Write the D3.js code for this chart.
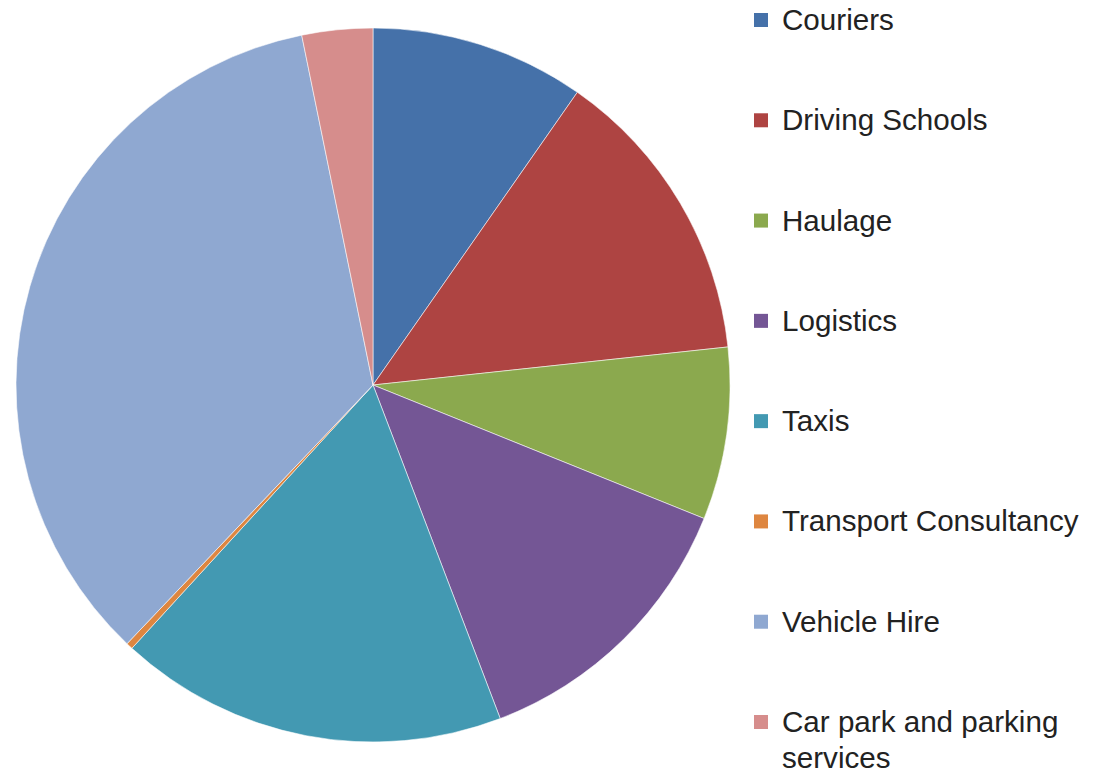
<!DOCTYPE html>
<html>
<head>
<meta charset="utf-8">
<script src="https://cdn.jsdelivr.net/npm/d3@7"></script>
<style>
  html, body { margin: 0; padding: 0; background: #fff; }
  svg { display: block; }
</style>
</head>
<body>
<svg id="chart" width="1093" height="776"></svg>
<script>
// data (percent of the whole)
var categories = ['Couriers', 'Driving Schools', 'Haulage', 'Logistics', 'Taxis',
                  'Transport Consultancy', 'Vehicle Hire', 'Car park and parking services'];
var values = [9.7, 13.6, 7.8, 13.1, 17.6, 0.3, 34.7, 3.2];
var colors = ['#4571a9', '#ae4442', '#8ba94e', '#745695', '#4399b2',
              '#de8640', '#8fa8d1', '#d68d8c'];
// legend labels split into lines
var legendLines = [['Couriers'], ['Driving Schools'], ['Haulage'], ['Logistics'], ['Taxis'],
                   ['Transport Consultancy'], ['Vehicle Hire'], ['Car park and parking', 'services']];

var svg = d3.select('#chart');

var cx = 373, cy = 385, r = 357;

var pie = d3.pie().sort(null).value(function (d) { return d; });
var arc = d3.arc().innerRadius(0).outerRadius(r);
var color = d3.scaleOrdinal().domain(categories).range(colors);

var g = svg.append('g').attr('transform', 'translate(' + cx + ',' + cy + ')');

g.selectAll('path')
  .data(pie(values))
  .enter().append('path')
  .attr('d', arc)
  .attr('fill', function (d, i) { return color(categories[i]); })
  .attr('stroke', 'rgba(255,255,255,0.55)')
  .attr('stroke-width', 1);

// legend
var ly = d3.scalePoint().domain(categories).range([20, 722]);

var item = svg.append('g').selectAll('g')
  .data(categories)
  .enter().append('g')
  .attr('transform', function (d) { return 'translate(754,' + ly(d) + ')'; });

item.append('rect')
  .attr('x', 0).attr('y', -7)
  .attr('width', 14).attr('height', 14)
  .attr('fill', function (d) { return color(d); });

item.append('text')
  .attr('x', 28)
  .attr('y', 10)
  .attr('font-family', 'Liberation Sans, Arial, sans-serif')
  .attr('font-size', 29.6)
  .attr('fill', '#222')
  .selectAll('tspan')
  .data(function (d, i) { return legendLines[i]; })
  .enter().append('tspan')
  .attr('x', 28)
  .attr('dy', function (d, i) { return i === 0 ? 0 : 36; })
  .text(function (d) { return d; });
</script>
</body>
</html>
